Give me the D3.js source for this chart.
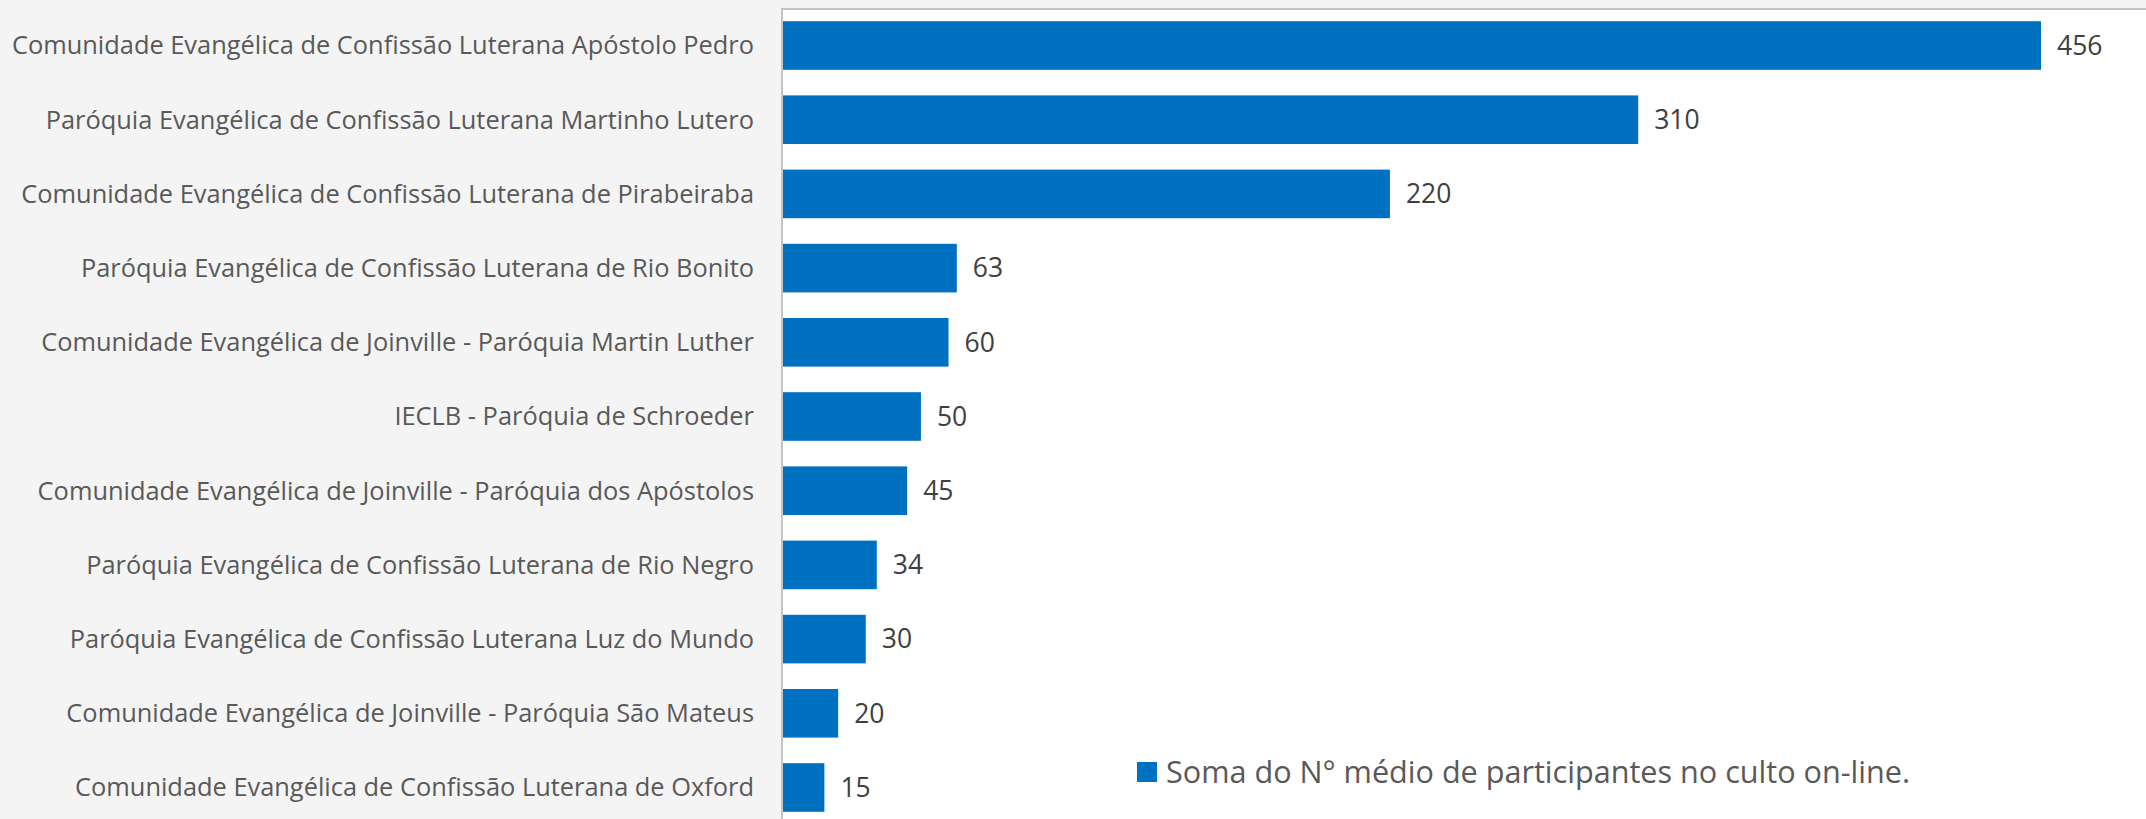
<!DOCTYPE html>
<html>
<head>
<meta charset="utf-8">
<script src="https://cdn.jsdelivr.net/npm/d3@7"></script>
<style>
  html, body { margin: 0; padding: 0; background: #f4f4f4; }
  svg { display: block; }
</style>
</head>
<body>
<svg id="chart" width="2146" height="819"></svg>
<script>
var categories = [
  "Comunidade Evangélica de Confissão Luterana Apóstolo Pedro",
  "Paróquia Evangélica de Confissão Luterana Martinho Lutero",
  "Comunidade Evangélica de Confissão Luterana de Pirabeiraba",
  "Paróquia Evangélica de Confissão Luterana de Rio Bonito",
  "Comunidade Evangélica de Joinville - Paróquia Martin Luther",
  "IECLB - Paróquia de Schroeder",
  "Comunidade Evangélica de Joinville - Paróquia dos Apóstolos",
  "Paróquia Evangélica de Confissão Luterana de Rio Negro",
  "Paróquia Evangélica de Confissão Luterana Luz do Mundo",
  "Comunidade Evangélica de Joinville - Paróquia São Mateus",
  "Comunidade Evangélica de Confissão Luterana de Oxford"
];
var values = [456, 310, 220, 63, 60, 50, 45, 34, 30, 20, 15];
var seriesName = "Soma do N° médio de participantes no culto on-line.";

var data = categories.map(function (c, i) {
  return { name: c, value: values[i] };
});

var svg = d3.select("#chart"),
  width = 2146,
  height = 819,
  plotLeft = 782,
  plotTop = 9;

var font = "'Open Sans', 'Noto Sans', sans-serif";
var barColor = "#0070C0";

// backgrounds
svg.append("rect")
  .attr("width", width)
  .attr("height", height)
  .attr("fill", "#f4f4f4");

svg.append("rect")
  .attr("x", plotLeft)
  .attr("y", plotTop)
  .attr("width", width - plotLeft + 5)
  .attr("height", height)
  .attr("fill", "#ffffff")
  .attr("stroke", "#c4c4c4")
  .attr("stroke-width", 2);

var xScale = d3.scaleLinear()
  .domain([0, d3.max(values)])
  .range([plotLeft + 1, 2041]);

var step = 74.2;
var yScale = d3.scaleBand()
  .domain(categories)
  .range([8.4, 8.4 + step * categories.length])
  .paddingInner(0.345)
  .paddingOuter(0.1725);

// category labels (axis)
var yAxis = svg.append("g")
  .attr("transform", "translate(" + (plotLeft - 28) + ",0)")
  .call(d3.axisLeft(yScale).tickSize(0).tickPadding(0));
yAxis.select(".domain").remove();
yAxis.selectAll("text")
  .attr("fill", "#595959")
  .attr("dy", "0.35em")
  .style("font-family", font)
  .style("font-size", "25.4px");

// bars
svg.selectAll(".bar")
  .data(data)
  .enter()
  .append("rect")
  .attr("class", "bar")
  .attr("x", xScale(0))
  .attr("y", function (d) { return yScale(d.name); })
  .attr("width", function (d) { return xScale(d.value) - xScale(0); })
  .attr("height", yScale.bandwidth())
  .attr("fill", barColor);

// value labels
svg.selectAll(".val")
  .data(data)
  .enter()
  .append("text")
  .attr("class", "val")
  .attr("x", function (d) { return xScale(d.value) + 16; })
  .attr("y", function (d) { return yScale(d.name) + yScale.bandwidth() / 2; })
  .attr("dy", "0.35em")
  .attr("fill", "#404040")
  .style("font-family", font)
  .style("font-size", "26.5px")
  .text(function (d) { return d.value; });

// legend
var legend = svg.append("g").attr("transform", "translate(1137,762)");
legend.append("rect")
  .attr("width", 20)
  .attr("height", 20)
  .attr("fill", barColor);
legend.append("text")
  .attr("x", 29)
  .attr("y", 10)
  .attr("dy", "0.35em")
  .attr("fill", "#595959")
  .style("font-family", font)
  .style("font-size", "30.6px")
  .text(seriesName);
</script>
</body>
</html>
